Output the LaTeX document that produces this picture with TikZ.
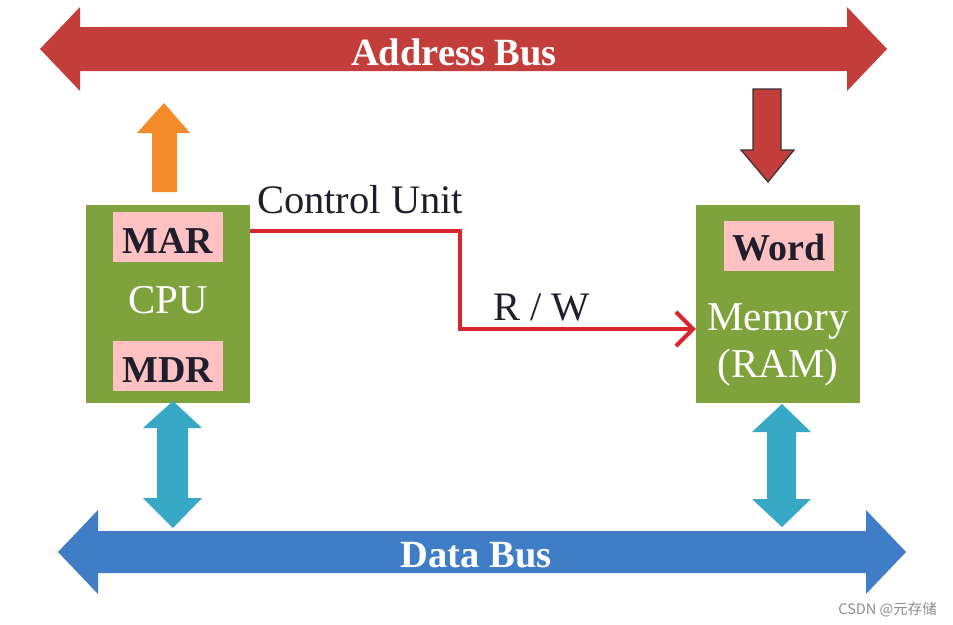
\documentclass[tikz,border=0pt]{standalone}
\usepackage{fontspec}
\setmainfont{Liberation Serif}
\newfontfamily\cjkfont{Noto Sans CJK SC}
\usetikzlibrary{arrows.meta}
\definecolor{abus}{HTML}{C33D3B}
\definecolor{dbus}{HTML}{3F7DC6}
\definecolor{tealarr}{HTML}{37A9C7}
\definecolor{orng}{HTML}{F38B2A}
\definecolor{grn}{HTML}{7FA33C}
\definecolor{pnk}{HTML}{FFC1C1}
\definecolor{ctlred}{HTML}{D8262F}
\definecolor{ink}{HTML}{1E1E2C}
\begin{document}
\begin{tikzpicture}[x=1pt,y=-1pt,
  busfill/.style={fill=#1, draw=none},
  bustext/.style={text=white, font=\fontsize{38.5}{40}\selectfont\bfseries, anchor=base, inner sep=0pt},
  unitbox/.style={fill=grn, draw=none, minimum width=164pt, minimum height=198pt, inner sep=0pt},
  regbox/.style={fill=pnk, draw=none, minimum width=110pt, minimum height=50pt, inner sep=0pt,
     text=ink, font=\fontsize{38}{40}\selectfont\bfseries, text depth=0pt},
  unittext/.style={text=white, font=\fontsize{41}{44}\selectfont, anchor=base, inner sep=0pt},
  plain/.style={text=ink, font=\fontsize{40.5}{44}\selectfont, anchor=base west, inner sep=0pt},
  ctl/.style={draw=ctlred, line width=3.2pt, -{Straight Barb[length=17pt,width=34pt,line width=4pt]}}
]
\useasboundingbox (0,0) rectangle (953,624);

% Address bus
\fill[busfill=abus] (40,49) -- (80,7) -- (80,27) -- (847,27) -- (847,7) -- (887,49)
  -- (847,91) -- (847,71) -- (80,71) -- (80,91) -- cycle;
\node[bustext] (abtext) at (454,65) {Address Bus};

% Data bus
\fill[busfill=dbus] (58,552) -- (98,510) -- (98,531) -- (866,531) -- (866,510) -- (906,552)
  -- (866,594) -- (866,573) -- (98,573) -- (98,594) -- cycle;
\node[bustext] (dbtext) at (476,567) {Data Bus};

% CPU
\node[unitbox] (cpu) at (168,304) {};
\node[regbox, text height=32pt] (mar) at (168,237) {MAR};
\node[regbox, text height=32pt] (mdr) at (168,366) {MDR};
\node[unittext] (cpulabel) at (168,313) {CPU};

% Memory
\node[unitbox] (mem) at (778,304) {};
\node[regbox, text height=28pt] (word) at (779,246) {Word};
\node[unittext] (memlabel) at (778,330) {Memory};
\node[unittext] (ramlabel) at (778,377) {(RAM)};

% orange up arrow (CPU -> address bus)
\fill[orng] (152,192) -- (152,133) -- (137,133) -- (164,103) -- (190,133) -- (177,133) -- (177,192) -- cycle;

% red down arrow (address bus -> memory)
\filldraw[fill=abus, draw=black!80, line width=1.2pt, line join=miter]
  (753,89) -- (781,89) -- (781,150) -- (794,150) -- (768,182) -- (741,150) -- (753,150) -- cycle;

% teal double arrows
\fill[tealarr] (173,401) -- (202,428) -- (188,428) -- (188,498) -- (202,498) -- (173,528)
  -- (143,498) -- (157,498) -- (157,428) -- (143,428) -- cycle;
\fill[tealarr] (782,404) -- (811,432) -- (796,432) -- (796,499) -- (811,499) -- (782,527)
  -- (752,499) -- (767,499) -- (767,432) -- (752,432) -- cycle;

% control line
\draw[ctl] (cpu.east |- 0,231) -| (460,329) -- (mem.west |- 0,329);
\node[plain] (cu) at (257,213) {Control Unit};
\node[plain] (rw) at (493,320) {R / W};

% watermark
\node[text=black!45, font=\cjkfont\fontsize{14.5}{16}\selectfont, anchor=base east, inner sep=0pt] (wm) at (937,614) {CSDN @元存储};
\end{tikzpicture}
\end{document}
